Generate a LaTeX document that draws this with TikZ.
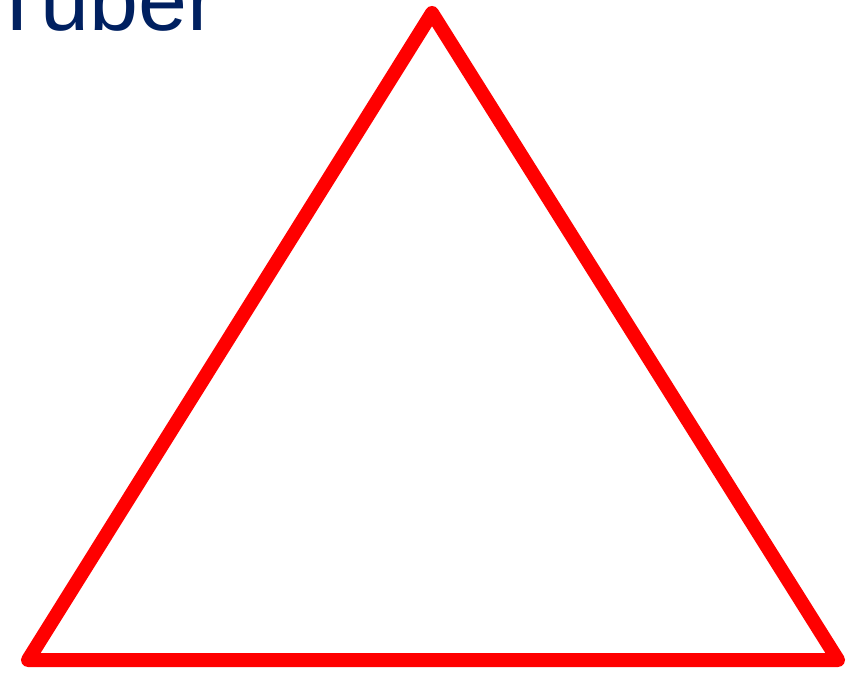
\documentclass[tikz,border=0pt]{standalone}
\usepackage{fontspec}
\setmainfont{Liberation Sans}
\definecolor{navy}{RGB}{0,32,96}
\tikzset{tri/.style={draw=red,line width=14pt,line join=round,line cap=round}}
\begin{document}
\begin{tikzpicture}[x=1pt,y=1pt]
\useasboundingbox (0,0) rectangle (858,673);
\begin{scope}
\clip (0,0) rectangle (858,673);
\node[anchor=base west,inner sep=0pt,text=navy,font=\fontsize{88}{88}\selectfont] (title) at (-10,642) {Tuber};
\end{scope}
\coordinate (A) at (432,660);
\coordinate (B) at (28,13);
\coordinate (C) at (838,13);
\draw[tri] (A) -- (B) -- (C) -- cycle;
\end{tikzpicture}
\end{document}
